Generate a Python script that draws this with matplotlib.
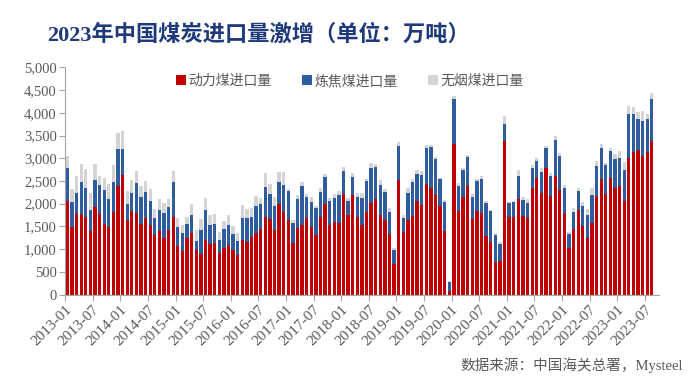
import numpy as np
import matplotlib
matplotlib.use("Agg")
import matplotlib.pyplot as plt
from matplotlib.ticker import FuncFormatter

# monthly imports, 10k tonnes, 2013-01 .. 2023-08 (2023-09 slot left empty)
months = [f"{y}-{m:02d}" for y in range(2013, 2024) for m in range(1, 13)][:129]

thermal = [2060, 1485, 1770, 1770, 1705, 1400, 1920, 1780, 1560, 1490, 1810, 2395,
           2640, 1645, 1845, 1795, 1560, 1675, 1530, 1310, 1405, 1240, 1410, 1715,
           1075, 950, 1250, 1365, 985, 895, 1200, 1105, 1140, 910, 1030, 1080,
           985, 865, 1190, 1160, 1265, 1365, 1435, 1715, 1670, 1425, 1990, 1815,
           1640, 1130, 1470, 1535, 1685, 1480, 1320, 1700, 2000, 1540, 1595, 1570,
           2215, 1760, 2190, 1700, 1525, 1810, 2025, 2095, 1745, 1640, 1325, 665,
           2515, 1385, 1635, 1735, 2065, 1980, 2440, 2355, 2190, 1955, 1405, 85,
           3310, 1840, 2155, 2400, 1670, 1840, 1795, 1295, 1155, 725, 730, 3390,
           1700, 1715, 2110, 1730, 1680, 2355, 2560, 2235, 2780, 2175, 2610, 2295,
           1790, 1030, 1450, 1860, 1510, 1250, 1570, 2170, 2535, 2220, 2575, 2355,
           2390, 2060, 3005, 3140, 3185, 3045, 3130, 3375]
coking = [720, 545, 465, 700, 645, 470, 595, 630, 735, 610, 675, 815,
          570, 355, 380, 660, 590, 580, 520, 380, 465, 545, 515, 770,
          410, 400, 295, 385, 200, 515, 670, 420, 405, 300, 405, 455,
          345, 310, 505, 530, 440, 575, 565, 655, 550, 515, 485, 595,
          630, 445, 640, 855, 465, 565, 575, 560, 595, 530, 520, 625,
          515, 305, 405, 455, 610, 690, 765, 705, 660, 610, 500, 325,
          745, 295, 610, 750, 595, 655, 780, 895, 800, 590, 630, 185,
          985, 550, 580, 630, 485, 655, 750, 710, 675, 595, 385, 375,
          325, 325, 505, 355, 345, 420, 390, 470, 440, 435, 785, 750,
          555, 295, 375, 420, 440, 500, 615, 655, 690, 625, 585, 630,
          615, 690, 970, 845, 685, 785, 725, 925]
anthracite = [280, 295, 385, 405, 405, 365, 360, 190, 280, 340, 360, 345,
              390, 285, 300, 255, 250, 250, 265, 190, 240, 220, 185, 245,
              190, 170, 155, 245, 235, 245, 250, 220, 220, 175, 175, 220,
              175, 175, 265, 190, 190, 235, 125, 295, 215, 205, 220, 280,
              55, 55, 80, 80, 65, 95, 60, 95, 50, 50, 95, 80,
              80, 60, 80, 75, 90, 45, 110, 65, 110, 65, 80, 35,
              95, 80, 95, 60, 80, 80, 65, 45, 40, 30, 45, 20,
              80, 60, 50, 50, 50, 45, 60, 50, 30, 30, 35, 155,
              20, 30, 120, 70, 80, 70, 60, 90, 60, 65, 105, 60,
              60, 45, 80, 75, 90, 140, 170, 125, 80, 50, 75, 105,
              145, 160, 175, 135, 145, 215, 120, 140]

names = ["动力煤进口量", "炼焦煤进口量", "无烟煤进口量"]
colors = ["#C00000", "#2F5C9F", "#D4D4D4"]

cjk = ["Noto Sans CJK SC", "DejaVu Sans"]
serif_cjk = ["Liberation Serif", "Noto Sans CJK SC"]

fig = plt.figure(figsize=(7, 3.81), dpi=100)
ax = fig.add_axes([0.093, 0.227, 0.848, 0.596])

x = np.arange(len(thermal))
t = np.array(thermal)
c = np.array(coking)
a = np.array(anthracite)
w = 0.72
ax.bar(x, t, w, color=colors[0], label=names[0], linewidth=0)
ax.bar(x, c, w, bottom=t, color=colors[1], label=names[1], linewidth=0)
ax.bar(x, a, w, bottom=t + c, color=colors[2], label=names[2], linewidth=0)

ax.set_xlim(-0.5, len(months) - 0.5)
ax.set_ylim(0, 5000)

tick_idx = list(range(0, len(months), 6))
ax.set_xticks([i - 0.5 for i in tick_idx])
ax.set_xticklabels([months[i] for i in tick_idx], rotation=45, ha="right",
                   rotation_mode="anchor", family="Liberation Serif",
                   fontsize=11, color="#595959")
ax.set_yticks(range(0, 5001, 500))
ax.yaxis.set_major_formatter(FuncFormatter(lambda v, p: f"{int(v):,}"))
for lab in ax.get_yticklabels():
    lab.set_family("Liberation Serif")
    lab.set_fontsize(10.5)
    lab.set_color("#595959")

for s in ["top", "right"]:
    ax.spines[s].set_visible(False)
for s in ["left", "bottom"]:
    ax.spines[s].set_color("#A6A6A6")
    ax.spines[s].set_linewidth(0.8)
ax.tick_params(axis="both", colors="#A6A6A6", length=4, width=0.8)
ax.tick_params(axis="x", pad=2, labelcolor="#595959")
ax.tick_params(axis="y", pad=2, labelcolor="#595959")

fig.legend(loc="center", bbox_to_anchor=(0.5, 0.787), ncol=3, frameon=False,
           handlelength=0.7, handleheight=0.7, handletextpad=0.2,
           columnspacing=2.2, prop={"family": cjk, "size": 10},
           labelcolor="#595959")

fig.text(0.068, 0.908, "2023年中国煤炭进口量激增（单位：万吨）", family=serif_cjk,
         fontsize=16, fontweight="bold", color="#1F3A7A", va="center")
fig.text(0.976, 0.042, "数据来源：中国海关总署，Mysteel", family=serif_cjk,
         fontsize=10.5, color="#595959", ha="right", va="center")

fig.savefig("out.png", dpi=100)
